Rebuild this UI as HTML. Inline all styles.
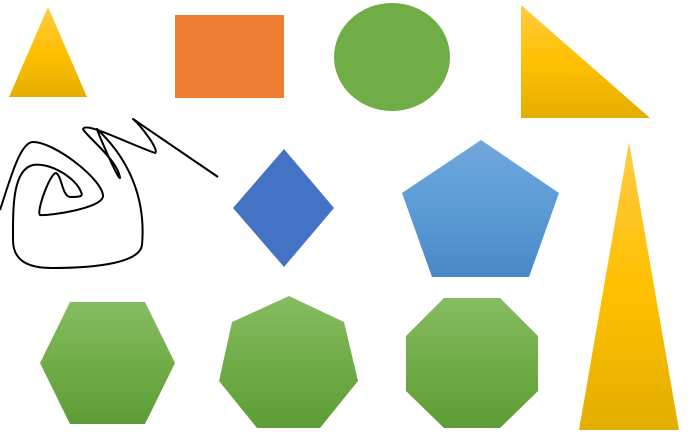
<!DOCTYPE html>
<html><head><meta charset="utf-8"><style>html,body{margin:0;padding:0;background:#fff}svg{display:block}</style></head>
<body>
<svg width="697" height="447" viewBox="0 0 697 447" xmlns="http://www.w3.org/2000/svg">
<defs>
<linearGradient id="yel" x1="0" y1="0" x2="0" y2="1"><stop offset="0" stop-color="#ffcb45"/><stop offset="0.5" stop-color="#ffc000"/><stop offset="1" stop-color="#e4ae00"/></linearGradient>
<linearGradient id="grn" x1="0" y1="0" x2="0" y2="1"><stop offset="0" stop-color="#86bc62"/><stop offset="0.5" stop-color="#70ad47"/><stop offset="1" stop-color="#5e9c36"/></linearGradient>
<linearGradient id="blu" x1="0" y1="0" x2="0" y2="1"><stop offset="0" stop-color="#71a7dd"/><stop offset="0.5" stop-color="#5b9bd5"/><stop offset="1" stop-color="#4a88c6"/></linearGradient>
</defs>
<polygon points="48,7 87,97 9,97" fill="url(#yel)"/>
<rect x="175" y="15" width="109" height="83" fill="#ed7d31"/>
<ellipse cx="392" cy="57" rx="58" ry="54" fill="#70ad47"/>
<polygon points="521,5 650,118 521,118" fill="url(#yel)"/>
<path fill="none" stroke="#000" stroke-width="2" stroke-linejoin="round" d="M0,210 C10,180 20,142 33,142 C55,142 103,180 103,196 C103,208 50,216 40,215 C36,212 50,173 56,173 C62,176 62,196 70,197 C78,197 84,197 81,192 C76,178 50,162 33,165 C12,170 13,210 13,240 C13,262 30,268 52,268 C100,268 140,262 142,245 C146,200 130,160 97,129 C95,126 118,180 120,178 C118,160 85,135 83,129 C86,122 120,140 155,153 C160,150 140,125 133,119 L218,177"/>
<polygon points="284,149 334,208 284,267 233,208" fill="#4472c4"/>
<polygon points="481,140 559,193 529,277 432,277 402,193" fill="url(#blu)"/>
<polygon points="629,142 679,430 579,430" fill="url(#yel)"/>
<polygon points="70,302 145,302 175,363 145,424 70,424 40,363" fill="url(#grn)"/>
<polygon points="289,296 344,322 358,381 320,428 257,428 219,381 232,322" fill="url(#grn)"/>
<polygon points="444,298 500,298 538,336 538,391 500,428 444,428 406,391 406,336" fill="url(#grn)"/>
</svg>
</body></html>
